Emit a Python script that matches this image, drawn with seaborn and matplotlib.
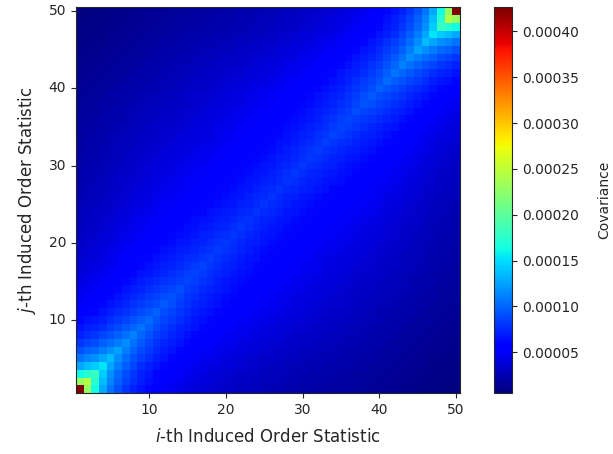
import numpy as np
import pandas as pd
import matplotlib
matplotlib.use("Agg")
import matplotlib.pyplot as plt
import seaborn as sns
from matplotlib.ticker import FormatStrFormatter

n = 50

# variance on the diagonal, from the (1,1) corner to the middle (mirrored for the other half)
diag_half = [4.26e-4, 2.45e-4, 1.80e-4, 1.52e-4, 1.36e-4, 1.25e-4, 1.17e-4, 1.11e-4, 1.06e-4, 1.02e-4,
             9.8e-5, 9.5e-5, 9.2e-5, 9.0e-5, 8.75e-5, 8.6e-5, 8.45e-5, 8.3e-5, 8.2e-5, 8.1e-5,
             8.03e-5, 7.97e-5, 7.93e-5, 7.9e-5, 7.89e-5]

# covariance of the 1st induced order statistic with the j-th one (bottom row of the map)
bottom_row = [4.26e-4, 2.30e-4, 1.62e-4, 1.28e-4, 1.07e-4, 9.2e-5, 8.1e-5, 7.25e-5, 6.55e-5, 6.0e-5,
              5.5e-5, 5.1e-5, 4.8e-5, 4.5e-5, 4.22e-5, 4.0e-5, 3.78e-5, 3.6e-5, 3.42e-5, 3.26e-5,
              3.12e-5, 2.98e-5, 2.86e-5, 2.74e-5, 2.63e-5, 2.53e-5, 2.44e-5, 2.35e-5, 2.26e-5, 2.18e-5,
              2.1e-5, 2.02e-5, 1.94e-5, 1.87e-5, 1.80e-5, 1.74e-5, 1.66e-5, 1.58e-5, 1.50e-5, 1.42e-5,
              1.35e-5, 1.27e-5, 1.19e-5, 1.12e-5, 1.04e-5, 9.6e-6, 8.8e-6, 8.0e-6, 7.1e-6, 5.6e-6]

axis_ticks = [10, 20, 30, 40, 50]
cbar_ticks = [0.00005, 0.00010, 0.00015, 0.00020, 0.00025, 0.00030, 0.00035, 0.00040]

# build the covariance matrix (Markov structure, centro-symmetric)
diag = np.array(diag_half + diag_half[::-1])
row1 = np.array(bottom_row)
cov = np.zeros((n, n))
for i in range(n):
    for j in range(i, n):
        if i + j <= n - 1:
            cov[i, j] = row1[j] * diag[i] / row1[i]
            cov[j, i] = cov[i, j]
for i in range(n):
    for j in range(i, n):
        if i + j > n - 1:
            cov[i, j] = cov[n - 1 - j, n - 1 - i]
            cov[j, i] = cov[i, j]

labels = list(range(1, n + 1))
df = pd.DataFrame(cov, index=labels, columns=labels)

fig = plt.figure(figsize=(6.13, 4.54), dpi=100)
ax = fig.add_axes([0.124, 0.1344, 0.6264, 0.8491])
cax = fig.add_axes([0.8059, 0.1344, 0.0294, 0.8491])

sns.heatmap(df, cmap="jet", ax=ax, cbar_ax=cax, linewidths=0,
            cbar_kws={"label": "Covariance"})

# origin at the bottom-left like imshow(origin='lower')
ax.set_ylim(0, n)
ax.set_xlim(0, n)
ax.set_xticks([t - 0.5 for t in axis_ticks])
ax.set_xticklabels(axis_ticks, rotation=0)
ax.set_yticks([t - 0.5 for t in axis_ticks])
ax.set_yticklabels(axis_ticks, rotation=0)
ax.tick_params(length=3.5, width=0.8, labelsize=10, colors="#262626")
for s in ax.spines.values():
    s.set_visible(True)
    s.set_linewidth(0.8)
    s.set_color("#262626")
ax.set_xlabel("$i$-th Induced Order Statistic", fontsize=12, labelpad=8, color="#262626")
ax.set_ylabel("$j$-th Induced Order Statistic", fontsize=12, labelpad=8, color="#262626")

cb = ax.collections[0].colorbar
cb.set_ticks(cbar_ticks)
cb.ax.yaxis.set_major_formatter(FormatStrFormatter("%.5f"))
cb.ax.tick_params(length=3.5, width=0.8, labelsize=10, colors="#262626")
cb.outline.set_linewidth(0.8)
cb.outline.set_edgecolor("#262626")
cb.set_label("Covariance", fontsize=10, labelpad=13, color="#262626")

fig.savefig("out.png", dpi=100)
